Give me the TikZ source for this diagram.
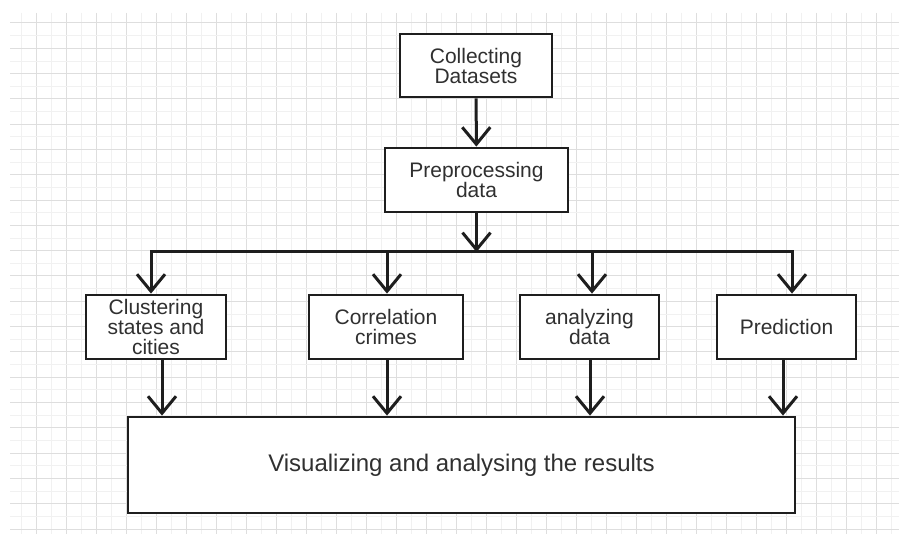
\documentclass[tikz,border=0pt]{standalone}
\usepackage{fontspec}
\setmainfont{Liberation Sans}
\usetikzlibrary{arrows.meta}
\definecolor{gmaj}{HTML}{DEDEDE}
\definecolor{gmin}{HTML}{F1F1F1}
\definecolor{ink}{HTML}{1E1E1E}
\definecolor{txt}{HTML}{303030}
\tikzset{
  box/.style={draw=ink, line width=2.8pt, fill=white, text=txt, align=center, inner sep=2pt,
    font=\fontsize{21}{20}\selectfont},
  ln/.style={draw=ink, line width=3pt},
  arr/.style={ln, -{Straight Barb[length=17pt,width=28pt,line width=3pt]}},
  barr/.style={ln, {Straight Barb[length=17pt,width=28pt,line width=3pt]}-{Straight Barb[length=17pt,width=28pt,line width=3pt]}},
}
\begin{document}
\begin{tikzpicture}[x=1pt,y=-1pt]
\useasboundingbox (0,0) rectangle (899,537);
\fill[white] (0,0) rectangle (899,537);
% grid
\begin{scope}
\clip (10,13) rectangle (899,534);
\foreach \k in {1,...,59}{
  \pgfmathsetmacro\xx{6.7+15*\k}
  \pgfmathparse{int(mod(\k,2))}
  \ifnum\pgfmathresult=0
    \draw[gmaj, line width=1pt] (\xx,13) -- (\xx,534);
  \else
    \draw[gmin, line width=0.8pt] (\xx,13) -- (\xx,534);
  \fi
}
\foreach \k in {0,...,40}{
  \pgfmathsetmacro\yy{23+12.65*\k}
  \pgfmathparse{int(mod(\k,2))}
  \ifnum\pgfmathresult=0
    \draw[gmaj, line width=1pt] (10,\yy) -- (899,\yy);
  \else
    \draw[gmin, line width=0.8pt] (10,\yy) -- (899,\yy);
  \fi
}
\end{scope}
% nodes
\node[box, minimum width=152pt, minimum height=63pt] (col) at (476,65.5) {Collecting\\Datasets};
\node[box, minimum width=183pt, minimum height=64pt] (pre) at (476.5,180) {Preprocessing\\data};
\node[box, minimum width=140pt, minimum height=64pt] (clu) at (156,327) {Clustering\\states and\\cities};
\node[box, minimum width=154pt, minimum height=64pt] (cor) at (386,327) {Correlation\\crimes};
\node[box, minimum width=139pt, minimum height=64pt] (ana) at (589.5,327) {analyzing\\data};
\node[box, minimum width=139pt, minimum height=64pt] (pred) at (786.5,327) {Prediction};
\node[box, minimum width=667pt, minimum height=96pt, font=\fontsize{24}{28}\selectfont] (vis) at (461.5,465) {Visualizing and analysing the results};
% connectors
\coordinate (bl) at (151,252);
\coordinate (br) at (792,252);
\draw[arr] (col) -- (pre);
\draw[arr] (pre.south) -- (pre.south |- bl);
\draw[barr] (bl |- clu.north) -- (bl) -- (br) -- (br |- pred.north);
\draw[arr] ([xshift=1pt]cor.north |- bl) -- ([xshift=1pt]cor.north);
\draw[arr] ([xshift=2.5pt]ana.north |- bl) -- ([xshift=2.5pt]ana.north);
\draw[arr] ([xshift=6pt]clu.south) -- ([xshift=6pt]clu.south |- vis.north);
\draw[arr] ([xshift=1pt]cor.south) -- ([xshift=1pt]cor.south |- vis.north);
\draw[arr] ([xshift=0.5pt]ana.south) -- ([xshift=0.5pt]ana.south |- vis.north);
\draw[arr] ([xshift=-3.5pt]pred.south) -- ([xshift=-3.5pt]pred.south |- vis.north);
\end{tikzpicture}
\end{document}
